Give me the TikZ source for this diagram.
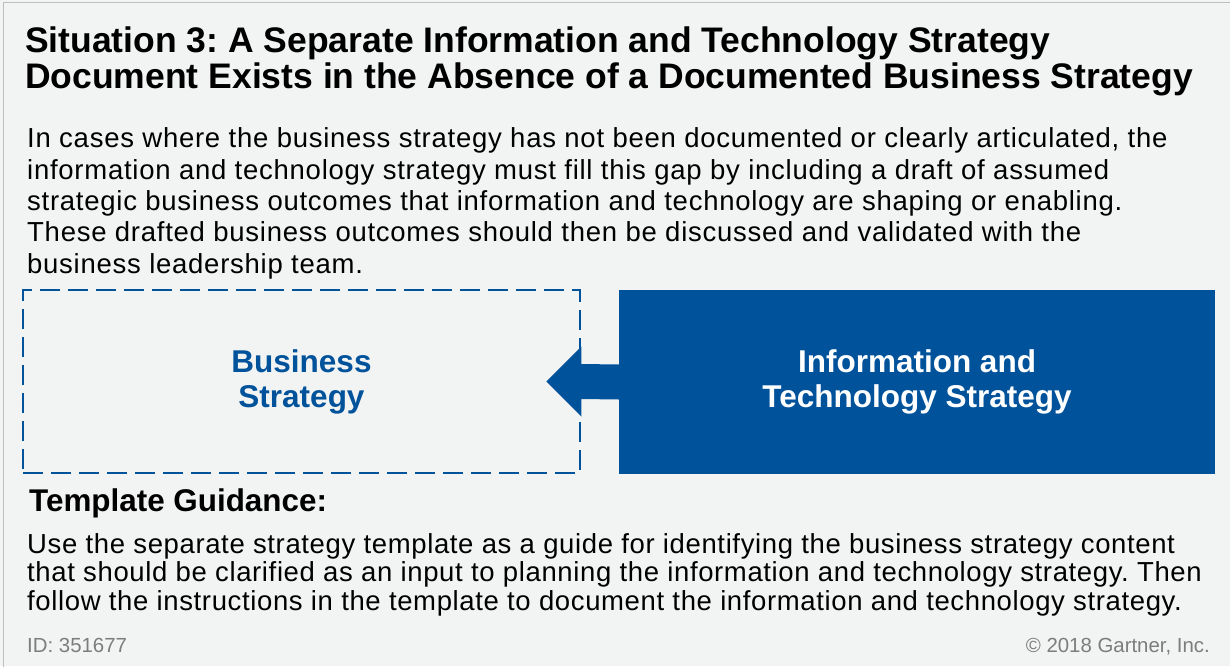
\documentclass[tikz,border=0pt]{standalone}
\usepackage{fontspec}
\setmainfont{Liberation Sans}
\usetikzlibrary{calc}
\frenchspacing
\definecolor{gartnerblue}{RGB}{0,82,155}
\definecolor{panelgray}{RGB}{242,243,243}
\definecolor{framegray}{RGB}{190,190,190}
\definecolor{footgray}{RGB}{125,125,125}
\begin{document}
\begin{tikzpicture}[x=1pt,y=-1pt]
\useasboundingbox (0,0) rectangle (1230,666);
\fill[panelgray] (0,0) rectangle (1230,666);
\draw[framegray,line width=1.5pt] (3.5,2.5) rectangle (1250,690);

% text blocks sit on the baseline of their last line
\node[anchor=base west,inner sep=0,align=left,font=\fontsize{35.5}{36}\selectfont\bfseries] (title) at (25,89)
  {Situation 3: A Separate Information and Technology Strategy\\Document Exists in the Absence of a Documented Business Strategy};

\node[anchor=base west,inner sep=0,align=left,font=\fontsize{27.5}{31.3}\selectfont\addfontfeatures{LetterSpace=2.7}] (intro) at (27,273)
  {In cases where the business strategy has not been documented or clearly articulated, the\\
   information and technology strategy must fill this gap by including a draft of assumed\\
   strategic business outcomes that information and technology are shaping or enabling.\\
   These drafted business outcomes should then be discussed and validated with the\\
   business leadership team.};

\node[draw=gartnerblue,line width=2.5pt,dash pattern=on 20pt off 8pt,minimum width=557pt,minimum height=183pt,inner sep=0,
  align=center,text=gartnerblue,font=\fontsize{31.5}{35}\selectfont\bfseries] (bsbox) at (301.5,381.5) {Business\\Strategy};
\node[fill=gartnerblue,minimum width=596pt,minimum height=184pt,inner sep=0,
  align=center,text=white,font=\fontsize{31.5}{35}\selectfont\bfseries] (itbox) at (917,382) {Information and\\Technology Strategy};

\fill[gartnerblue] ($(itbox.west)+(0,-17.5)$) -- ($(bsbox.east)+(0,-17.5)$) -- ($(bsbox.east)+(0,-35)$)
  -- ($(bsbox.east)+(-35,0)$) -- ($(bsbox.east)+(0,35)$) -- ($(bsbox.east)+(0,17.5)$)
  -- ($(itbox.west)+(0,17.5)$) -- cycle;

\node[anchor=base west,inner sep=0,font=\fontsize{31.4}{35}\selectfont\bfseries] (guidehead) at (29,511) {Template Guidance:};
\node[anchor=base west,inner sep=0,align=left,font=\fontsize{27.5}{28.5}\selectfont\addfontfeatures{LetterSpace=2.3}] (guide) at (27,610)
  {Use the separate strategy template as a guide for identifying the business strategy content\\
   that should be clarified as an input to planning the information and technology strategy. Then\\
   follow the instructions in the template to document the information and technology strategy.};

\node[anchor=base west,inner sep=0,text=footgray,font=\fontsize{20.4}{22}\selectfont] (docid) at (27,652) {ID: 351677};
\node[anchor=base east,inner sep=0,text=footgray,font=\fontsize{20.4}{22}\selectfont] (copy) at (1210,652) {\textcopyright{} 2018 Gartner, Inc.};
\end{tikzpicture}
\end{document}
